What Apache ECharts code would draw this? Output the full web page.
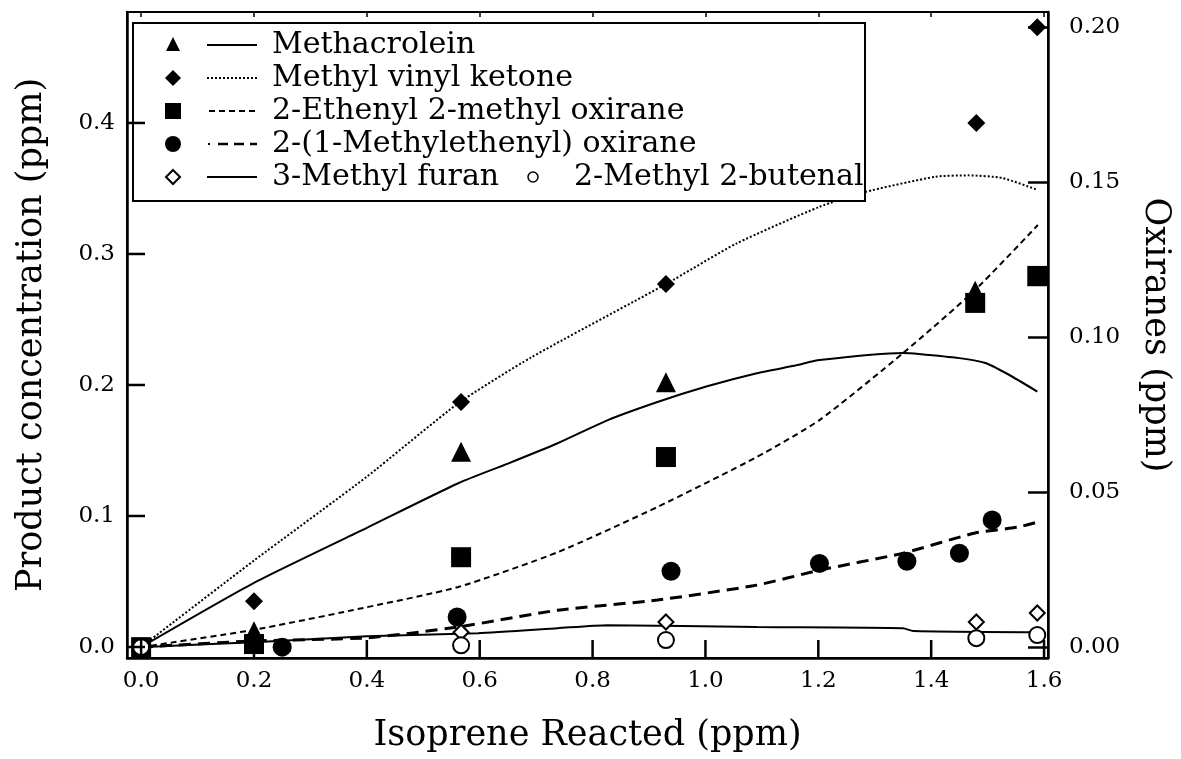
<!DOCTYPE html>
<html>
<head>
<meta charset="utf-8">
<script src="https://cdn.jsdelivr.net/npm/echarts@6/dist/echarts.min.js"></script>
<style>
  html, body { margin: 0; padding: 0; background: #fff; }
  #chart { width: 1181px; height: 759px; }
</style>
</head>
<body>
<div id="chart"></div>
<script>
// tick labels
const xTicks = [0, 0.2, 0.4, 0.6, 0.8, 1.0, 1.2, 1.4, 1.6];
const leftTicks = [0, 0.1, 0.2, 0.3, 0.4];
const rightTicks = [0, 0.05, 0.10, 0.15, 0.20];

// measured points [isoprene reacted, concentration]
// left axis: product concentration (ppm)
const methacroleinPts = [[0, 0], [0.2, 0.012], [0.567, 0.149], [0.93, 0.202], [1.478, 0.272], [1.588, 0.283]];
const mvkPts = [[0, 0], [0.2, 0.035], [0.567, 0.187], [0.93, 0.277], [1.48, 0.400], [1.588, 0.473]];
// right axis: oxiranes (ppm)
const ethenylOxPts = [[0, 0], [0.2, 0.001], [0.567, 0.029], [0.93, 0.0613], [1.478, 0.111], [1.588, 0.1197]];
const methylethenylOxPts = [[0, 0], [0.25, 0], [0.56, 0.0097], [0.939, 0.0245], [1.202, 0.027], [1.357, 0.0277], [1.45, 0.0303], [1.508, 0.041]];
const furanPts = [[0, 0], [0.567, 0.0048], [0.93, 0.0081], [1.48, 0.0081], [1.588, 0.011]];
const butenalPts = [[0, 0], [0.567, 0.0006], [0.93, 0.0023], [1.48, 0.0029], [1.588, 0.0039]];

// model curves
const methacroleinFit = [[0, 0], [0.2, 0.049], [0.4, 0.091], [0.562, 0.125], [0.65, 0.140], [0.738, 0.1555], [0.826, 0.173], [0.915, 0.187], [1.003, 0.199], [1.091, 0.209], [1.161, 0.215], [1.202, 0.219], [1.35, 0.2244], [1.378, 0.2237], [1.45, 0.2205], [1.496, 0.2168], [1.537, 0.208], [1.588, 0.195]];
const mvkFit = [[0, 0], [0.2, 0.066], [0.4, 0.13], [0.562, 0.186], [0.691, 0.221], [0.93, 0.277], [1.055, 0.308], [1.202, 0.336], [1.28, 0.347], [1.408, 0.359], [1.466, 0.360], [1.526, 0.358], [1.588, 0.349]];
const ethenylOxFit = [[0, 0], [0.197, 0.0055], [0.374, 0.0119], [0.562, 0.0194], [0.738, 0.0306], [0.915, 0.0452], [1.091, 0.0613], [1.202, 0.0732], [1.35, 0.0948], [1.478, 0.1152], [1.589, 0.1361]];
const methylethenylOxFit = [[0, 0], [0.2, 0.002], [0.4, 0.003], [0.562, 0.0065], [0.738, 0.0119], [0.915, 0.0152], [1.091, 0.020], [1.202, 0.0248], [1.35, 0.0303], [1.478, 0.0368], [1.554, 0.0387], [1.588, 0.0403]];
const furanFit = [[0, 0], [0.2, 0.0016], [0.4, 0.0035], [0.597, 0.0045], [0.738, 0.0061], [0.826, 0.0071], [1.091, 0.0065], [1.35, 0.0061], [1.368, 0.0052], [1.588, 0.0048]];

const legendNames = ['Methacrolein', 'Methyl vinyl ketone', '2-Ethenyl 2-methyl oxirane', '2-(1-Methylethenyl) oxirane', '3-Methyl furan', '2-Methyl 2-butenal'];

const X_MIN = -0.025, X_MAX = 1.607;
const YL_MIN = -0.0084, YL_MAX = 0.4847;
const YR_MIN = -0.0035, YR_MAX = 0.2048;

const FONT = '"DejaVu Serif", serif';
const chart = echarts.init(document.getElementById('chart'), null, { renderer: 'canvas' });

function fitLine(name, data, yIdx, dash, width) {
  return {
    name: name, type: 'line', data: data, yAxisIndex: yIdx,
    showSymbol: false, smooth: 0.2, z: 2, silent: true,
    lineStyle: { color: '#000', width: width, type: dash, opacity: 1 }
  };
}
function dots(name, data, yIdx, symbol, size, empty) {
  return {
    name: name, type: 'scatter', data: data, yAxisIndex: yIdx,
    symbol: symbol, symbolSize: size, z: 3,
    itemStyle: empty ? { color: '#fff', borderColor: '#000', borderWidth: 2, opacity: 1 } : { color: '#000', opacity: 1 }
  };
}
const hidden = { show: false };

// legend drawn as graphics so each row can hold marker + line sample + text
const rowY = [45, 78, 111, 144, 177];
const legendGraphics = [
  { type: 'rect', shape: { x: 133, y: 23, width: 732, height: 178 }, style: { fill: '#fff', stroke: '#000', lineWidth: 2 }, z: 10 },
  { type: 'polygon', shape: { points: [[173, rowY[0] - 8], [180, rowY[0] + 6], [166, rowY[0] + 6]] }, style: { fill: '#000' }, z: 11 },
  { type: 'polygon', shape: { points: [[173, rowY[1] - 8], [181, rowY[1]], [173, rowY[1] + 8], [165, rowY[1]]] }, style: { fill: '#000' }, z: 11 },
  { type: 'rect', shape: { x: 165, y: rowY[2] - 8, width: 16, height: 16 }, style: { fill: '#000' }, z: 11 },
  { type: 'circle', shape: { cx: 173, cy: rowY[3], r: 8 }, style: { fill: '#000' }, z: 11 },
  { type: 'polygon', shape: { points: [[173, rowY[4] - 7], [180, rowY[4]], [173, rowY[4] + 7], [166, rowY[4]]] }, style: { fill: '#fff', stroke: '#000', lineWidth: 2 }, z: 11 },
  { type: 'circle', shape: { cx: 533, cy: rowY[4], r: 5 }, style: { fill: '#fff', stroke: '#000', lineWidth: 1.5 }, z: 11 },
  { type: 'line', shape: { x1: 207, y1: rowY[0], x2: 257, y2: rowY[0] }, style: { stroke: '#000', lineWidth: 2 }, z: 11 },
  { type: 'line', shape: { x1: 207, y1: rowY[1], x2: 257, y2: rowY[1] }, style: { stroke: '#000', lineWidth: 2, lineDash: [2, 2] }, z: 11 },
  { type: 'line', shape: { x1: 209, y1: rowY[2], x2: 257, y2: rowY[2] }, style: { stroke: '#000', lineWidth: 2, lineDash: [6, 4] }, z: 11 },
  { type: 'line', shape: { x1: 208, y1: rowY[3], x2: 210, y2: rowY[3] }, style: { stroke: '#000', lineWidth: 2 }, z: 11 },
  { type: 'line', shape: { x1: 218, y1: rowY[3], x2: 257, y2: rowY[3] }, style: { stroke: '#000', lineWidth: 2.5, lineDash: [10, 6] }, z: 11 },
  { type: 'line', shape: { x1: 207, y1: rowY[4], x2: 257, y2: rowY[4] }, style: { stroke: '#000', lineWidth: 2 }, z: 11 }
];
legendNames.slice(0, 5).forEach(function (t, i) {
  legendGraphics.push({ type: 'text', x: 272, y: rowY[i], z: 11,
    style: { text: t, font: '30px ' + FONT, fill: '#000', verticalAlign: 'middle' } });
});
legendGraphics.push({ type: 'text', x: 574, y: rowY[4], z: 11,
  style: { text: legendNames[5], font: '30px ' + FONT, fill: '#000', verticalAlign: 'middle' } });

const tickFont = { fontFamily: FONT, fontSize: 23, color: '#000' };
const titleFont = { fontFamily: FONT, fontSize: 35, color: '#000' };

chart.setOption({
  animation: false,
  backgroundColor: '#fff',
  grid: { left: 127, right: 128, top: 12, bottom: 101, show: true, borderColor: '#000', borderWidth: 2, backgroundColor: 'transparent' },
  xAxis: [{
    type: 'value', min: X_MIN, max: X_MAX, position: 'bottom',
    name: 'Isoprene Reacted (ppm)', nameLocation: 'middle', nameGap: 60, nameTextStyle: titleFont,
    axisLine: { show: true, onZero: false, lineStyle: { color: '#000', width: 2.5 } },
    axisTick: hidden,
    axisLabel: { customValues: xTicks, margin: 12, formatter: function (v) { return v.toFixed(1); }, ...tickFont },
    splitLine: hidden
  }, {
    type: 'value', min: X_MIN, max: X_MAX, position: 'top',
    axisLine: { show: true, onZero: false, lineStyle: { color: '#000', width: 2 } },
    axisTick: { show: true, inside: true, length: 5, customValues: xTicks, lineStyle: { color: '#000', width: 1.5 } },
    axisLabel: hidden, splitLine: hidden
  }],
  yAxis: [{
    type: 'value', min: YL_MIN, max: YL_MAX, position: 'left',
    name: 'Product concentration (ppm)', nameLocation: 'middle', nameGap: 78, nameRotate: 90, nameTextStyle: titleFont,
    axisLine: { show: true, onZero: false, lineStyle: { color: '#000', width: 2.5 } },
    axisTick: hidden,
    axisLabel: { customValues: leftTicks, margin: 12, formatter: function (v) { return v.toFixed(1); }, ...tickFont },
    splitLine: hidden
  }, {
    type: 'value', min: YR_MIN, max: YR_MAX, position: 'right',
    name: 'Oxiranes (ppm)', nameLocation: 'middle', nameGap: 90, nameRotate: -90, nameTextStyle: titleFont,
    axisLine: { show: true, onZero: false, lineStyle: { color: '#000', width: 2.5 } },
    axisTick: { show: true, inside: true, length: 20, customValues: rightTicks, lineStyle: { color: '#000', width: 2.5 } },
    axisLabel: { customValues: rightTicks, margin: 21, formatter: function (v) { return v.toFixed(2); }, ...tickFont },
    splitLine: hidden
  }],
  series: [
    fitLine(legendNames[0], methacroleinFit, 0, 'solid', 2),
    fitLine(legendNames[1], mvkFit, 0, [2, 2], 2),
    fitLine(legendNames[2], ethenylOxFit, 1, [6, 4], 2),
    fitLine(legendNames[3], methylethenylOxFit, 1, [12, 7], 3),
    fitLine(legendNames[4], furanFit, 1, 'solid', 2),
    dots(legendNames[0], methacroleinPts, 0, 'triangle', 20, false),
    dots(legendNames[1], mvkPts, 0, 'diamond', 18, false),
    dots(legendNames[2], ethenylOxPts, 1, 'rect', 20, false),
    dots(legendNames[3], methylethenylOxPts, 1, 'circle', 19, false),
    dots(legendNames[4], furanPts, 1, 'diamond', 15, true),
    dots(legendNames[5], butenalPts, 1, 'circle', 16, true)
  ],
  graphic: legendGraphics
});

// inward tick marks on the left and bottom frame, positioned through the axis scales
const finder = { xAxisIndex: 0, yAxisIndex: 0 };
const frameTicks = [];
leftTicks.forEach(function (v) {
  const p = chart.convertToPixel(finder, [X_MIN, v]);
  frameTicks.push({ type: 'line', z: 20, shape: { x1: p[0], y1: p[1], x2: p[0] + 18, y2: p[1] }, style: { stroke: '#000', lineWidth: 2.5 } });
});
xTicks.forEach(function (v) {
  const p = chart.convertToPixel(finder, [v, YL_MIN]);
  frameTicks.push({ type: 'line', z: 20, shape: { x1: p[0], y1: p[1], x2: p[0], y2: p[1] - 18 }, style: { stroke: '#000', lineWidth: 2.5 } });
});
chart.setOption({ graphic: legendGraphics.concat(frameTicks) });
</script>
</body>
</html>
